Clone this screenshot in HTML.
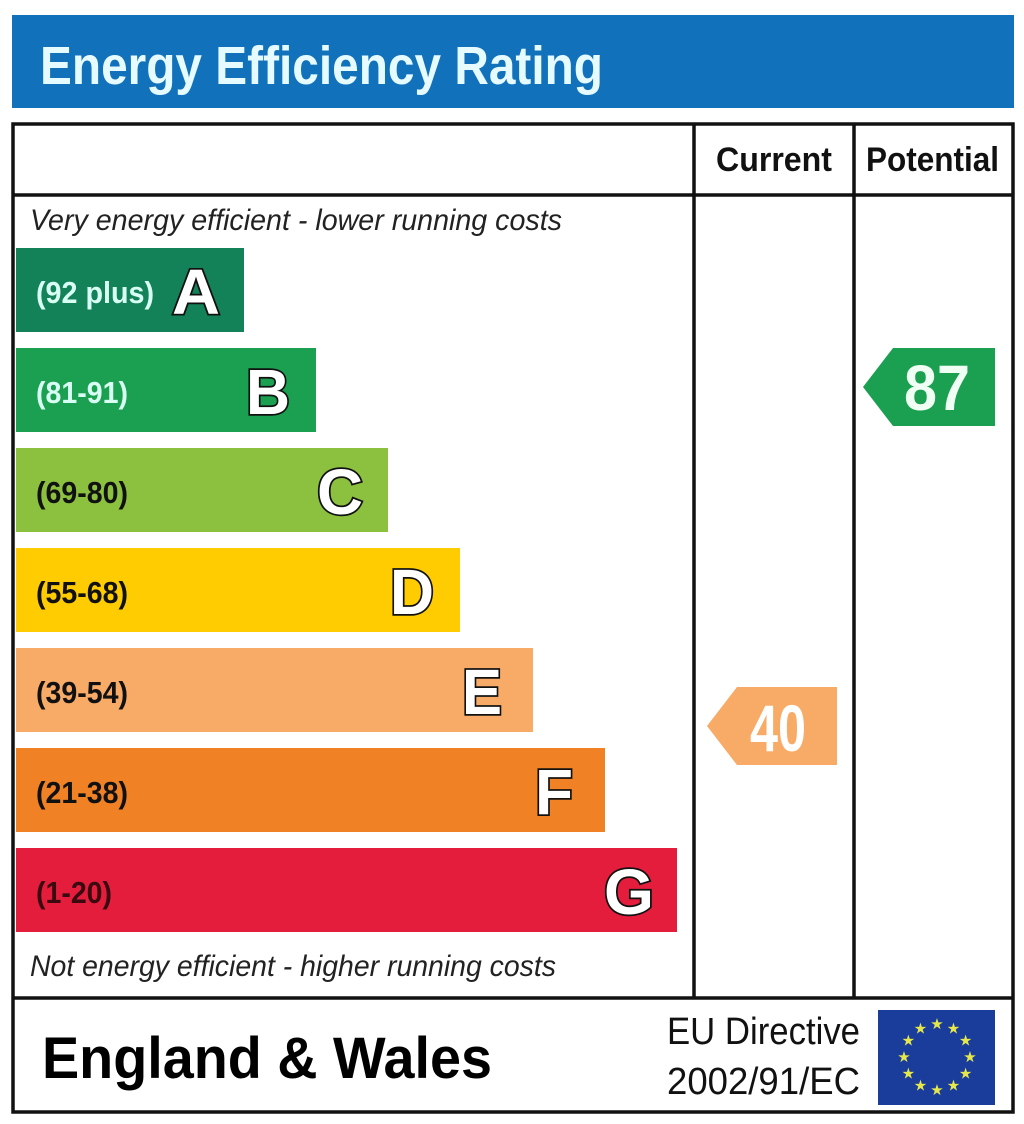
<!DOCTYPE html>
<html><head><meta charset="utf-8"><style>html,body{margin:0;padding:0;background:#fff;}svg{display:block}svg text{font-family:"Liberation Sans",Arial,sans-serif;}</style></head>
<body>
<svg width="1024" height="1124" viewBox="0 0 1024 1124" xmlns="http://www.w3.org/2000/svg">
<rect x="0" y="0" width="1024" height="1124" fill="#fff"/>
<rect x="12" y="15" width="1002" height="93" fill="#1172bb"/>
<text x="40" y="84" font-size="54" font-weight="bold" fill="#e6fbff" textLength="563" lengthAdjust="spacingAndGlyphs">Energy Efficiency Rating</text>
<g stroke="#111" stroke-width="3.5" fill="none">
<rect x="13" y="124" width="1000" height="988"/>
<line x1="13" y1="195" x2="1013" y2="195"/>
<line x1="13" y1="998" x2="1013" y2="998"/>
<line x1="694" y1="124" x2="694" y2="998"/>
<line x1="854" y1="124" x2="854" y2="998"/>
</g>
<text x="716" y="171" font-size="34" font-weight="bold" fill="#111" textLength="116" lengthAdjust="spacingAndGlyphs">Current</text>
<text x="866" y="171" font-size="34" font-weight="bold" fill="#111" textLength="133" lengthAdjust="spacingAndGlyphs">Potential</text>
<text x="30" y="230" font-size="30" font-style="italic" fill="#222" textLength="532" lengthAdjust="spacingAndGlyphs">Very energy efficient - lower running costs</text>
<text x="30" y="976" font-size="30" font-style="italic" fill="#222" textLength="526" lengthAdjust="spacingAndGlyphs">Not energy efficient - higher running costs</text>
<g font-weight="bold">
<rect x="16" y="248" width="228" height="84" fill="#138259"/>
<text x="36" y="303" font-size="31" fill="#d9fff4" textLength="118" lengthAdjust="spacingAndGlyphs">(92 plus)</text>
<text x="172" y="314" font-size="64" fill="#fff" stroke="#111" stroke-width="3.5" paint-order="stroke" textLength="48" lengthAdjust="spacingAndGlyphs">A</text>
<rect x="16" y="348" width="300" height="84" fill="#1aa050"/>
<text x="36" y="403" font-size="31" fill="#d9fff4" textLength="92" lengthAdjust="spacingAndGlyphs">(81-91)</text>
<text x="246" y="414" font-size="64" fill="#fff" stroke="#111" stroke-width="3.5" paint-order="stroke" textLength="44" lengthAdjust="spacingAndGlyphs">B</text>
<rect x="16" y="448" width="372" height="84" fill="#8cc13f"/>
<text x="36" y="503" font-size="31" fill="#111" textLength="92" lengthAdjust="spacingAndGlyphs">(69-80)</text>
<text x="317" y="514" font-size="64" fill="#fff" stroke="#111" stroke-width="3.5" paint-order="stroke" textLength="46" lengthAdjust="spacingAndGlyphs">C</text>
<rect x="16" y="548" width="444" height="84" fill="#fecc00"/>
<text x="36" y="603" font-size="31" fill="#111" textLength="92" lengthAdjust="spacingAndGlyphs">(55-68)</text>
<text x="390" y="614" font-size="64" fill="#fff" stroke="#111" stroke-width="3.5" paint-order="stroke" textLength="44" lengthAdjust="spacingAndGlyphs">D</text>
<rect x="16" y="648" width="517" height="84" fill="#f8ab66"/>
<text x="36" y="703" font-size="31" fill="#111" textLength="92" lengthAdjust="spacingAndGlyphs">(39-54)</text>
<text x="462" y="714" font-size="64" fill="#fff" stroke="#111" stroke-width="3.5" paint-order="stroke" textLength="40" lengthAdjust="spacingAndGlyphs">E</text>
<rect x="16" y="748" width="589" height="84" fill="#f08125"/>
<text x="36" y="803" font-size="31" fill="#111" textLength="92" lengthAdjust="spacingAndGlyphs">(21-38)</text>
<text x="535" y="814" font-size="64" fill="#fff" stroke="#111" stroke-width="3.5" paint-order="stroke" textLength="38" lengthAdjust="spacingAndGlyphs">F</text>
<rect x="16" y="848" width="661" height="84" fill="#e41d3c"/>
<text x="36" y="903" font-size="31" fill="#3a0a10" textLength="76" lengthAdjust="spacingAndGlyphs">(1-20)</text>
<text x="604" y="914" font-size="64" fill="#fff" stroke="#111" stroke-width="3.5" paint-order="stroke" textLength="50" lengthAdjust="spacingAndGlyphs">G</text>
</g>
<polygon points="863,387 893,348 995,348 995,426 893,426" fill="#1aa050"/>
<text x="904" y="410" font-size="64" font-weight="bold" fill="#f0fff4" textLength="66" lengthAdjust="spacingAndGlyphs">87</text>
<polygon points="707,726 737,687 837,687 837,765 737,765" fill="#f8ab66"/>
<text x="750" y="751" font-size="66" font-weight="bold" fill="#fff" textLength="56" lengthAdjust="spacingAndGlyphs">40</text>
<text x="42" y="1078" font-size="58" font-weight="bold" fill="#000" textLength="450" lengthAdjust="spacingAndGlyphs">England &amp; Wales</text>
<text x="667" y="1044" font-size="38" fill="#111" textLength="193" lengthAdjust="spacingAndGlyphs">EU Directive</text>
<text x="667" y="1094" font-size="38" fill="#111" textLength="193" lengthAdjust="spacingAndGlyphs">2002/91/EC</text>
<rect x="878" y="1010" width="117" height="95" fill="#1a3d9c"/>
<g fill="#e6e84a" font-size="15" text-anchor="middle">
<text x="937" y="1029">★</text><text x="953.5" y="1033.4">★</text><text x="965.6" y="1045.5">★</text>
<text x="970" y="1062">★</text><text x="965.6" y="1078.5">★</text><text x="953.5" y="1090.6">★</text>
<text x="937" y="1095">★</text><text x="920.5" y="1090.6">★</text><text x="908.4" y="1078.5">★</text>
<text x="904" y="1062">★</text><text x="908.4" y="1045.5">★</text><text x="920.5" y="1033.4">★</text>
</g>
</svg>
</body></html>
